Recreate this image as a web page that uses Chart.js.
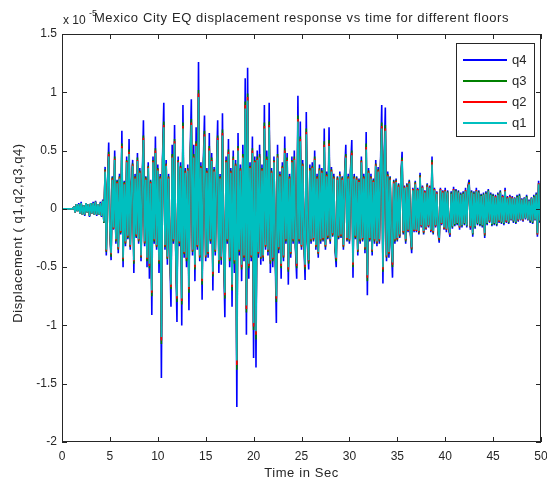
<!DOCTYPE html>
<html>
<head>
<meta charset="utf-8">
<script src="https://cdn.jsdelivr.net/npm/chart.js@4.4.1/dist/chart.umd.min.js"></script>
<style>
  html, body { margin: 0; padding: 0; background: #fff; }
  canvas { display: block; }
</style>
</head>
<body>
<canvas id="eqChart" width="547" height="488"></canvas>
<script>
// floor displacements (x 1e-5), sampled every 0.125 s from 0 to 50 s, one row per second
const dt = 0.125;

const q4 = [
  0, 0, 0, 0, 0, 0, 0, 0,
  0, 0, 0.02, -0.03, 0.04, -0.02, 0.05, -0.04,
  0.06, -0.05, 0.03, -0.06, 0.05, -0.03, 0.04, -0.07,
  0.05, -0.04, 0.06, -0.05, 0.07, -0.06, 0.04, -0.05,
  0.06, -0.07, 0.08, -0.12, 0.36, -0.40, 0.22, 0.57,
  -0.20, -0.44, 0.28, -0.18, 0.50, -0.30, 0.25, -0.38,
  0.30, -0.22, 0.67, -0.50, 0.24, -0.32, 0.45, -0.26,
  0.60, -0.35, 0.22, 0.42, -0.55, 0.30, -0.25, 0.48,
  -0.30, 0.35, -0.45, 0.22, 0.76, -0.32, 0.28, -0.50,
  0.40, -0.60, 0.25, -0.91, 0.45, -0.30, 0.62, -0.35,
  0.38, -0.55, 0.30, -1.45, 0.45, 0.91, -0.35, 0.42,
  -0.48, 0.30, -0.38, -0.84, 0.55, -0.30, 0.72, -0.40,
  -0.97, 0.45, -0.32, 0.40, -1.00, 0.89, -0.42, 0.35,
  -0.50, 0.38, -0.87, 0.45, 0.94, -0.40, 0.55, -0.62,
  0.70, -0.35, 1.26, -0.45, 0.40, -0.78, 0.38, 0.80,
  -0.45, 0.35, -0.42, 0.65, -0.30, 0.48, -0.70, 0.36,
  -0.40, 0.32, 0.76, -0.55, 0.30, -0.48, 0.82, -0.38,
  -0.93, 0.45, -0.30, 0.60, -0.50, 0.35, -0.84, 0.50,
  -0.55, 0.42, -1.70, 0.65, -0.40, 0.38, -0.62, 0.55,
  -0.45, 1.12, -1.08, 1.21, -0.60, 0.40, -0.45, 0.62,
  -1.28, 0.45, -1.36, 0.50, -0.42, 0.55, -0.48, 0.38,
  -0.45, 0.89, -0.35, 0.50, -0.40, 0.91, -0.55, 0.35,
  -0.50, 0.45, -0.35, -0.98, 0.55, -0.38, 0.32, -0.60,
  0.40, -0.45, 0.62, -0.30, 0.48, -0.65, 0.30, -0.42,
  0.45, -0.30, 0.50, -0.35, -0.60, 0.97, -0.30, 0.75,
  -0.35, 0.42, -0.28, -0.61, 0.83, -0.30, -0.52, 0.38,
  -0.30, 0.40, -0.28, 0.50, -0.35, 0.30, -0.42, 0.38,
  -0.30, 0.35, -0.28, 0.69, -0.35, 0.32, -0.26, 0.70,
  -0.30, 0.36, -0.24, 0.30, -0.35, -0.50, 0.28, -0.26,
  0.32, -0.25, 0.28, -0.35, 0.30, 0.55, -0.28, 0.30,
  -0.30, 0.35, 0.59, -0.59, 0.30, -0.26, 0.28, -0.40,
  0.26, -0.30, 0.45, -0.28, 0.30, -0.38, 0.66, -0.74,
  0.35, -0.28, 0.30, -0.40, 0.26, -0.30, 0.42, -0.32,
  0.36, -0.30, 0.40, 0.89, -0.64, 0.42, 0.87, -0.45,
  0.32, -0.42, 0.28, -0.30, -0.59, 0.25, -0.30, 0.26,
  -0.28, 0.22, -0.25, 0.28, 0.49, -0.22, 0.20, -0.30,
  0.22, -0.20, 0.25, -0.22, -0.38, 0.18, -0.20, 0.24,
  -0.20, 0.18, -0.22, 0.31, -0.16, 0.20, -0.22, 0.16,
  -0.18, 0.22, -0.16, 0.20, -0.20, 0.45, -0.22, 0.18,
  -0.16, 0.15, -0.20, -0.29, 0.18, -0.14, 0.16, -0.18,
  0.18, -0.20, 0.16, -0.18, -0.24, 0.15, -0.17, 0.19,
  -0.15, 0.17, -0.14, 0.16, -0.18, 0.14, -0.16, 0.15,
  -0.14, 0.18, -0.16, 0.20, 0.25, -0.18, 0.16, -0.24,
  0.15, -0.17, 0.18, -0.14, 0.16, -0.15, 0.13, -0.16,
  0.14, -0.25, 0.15, -0.14, 0.17, -0.12, 0.14, -0.15,
  0.13, -0.14, 0.12, -0.15, 0.14, -0.12, 0.16, -0.13,
  0.12, -0.14, 0.18, -0.12, 0.11, -0.13, 0.12, -0.10,
  0.11, -0.12, 0.10, -0.13, 0.12, -0.11, 0.13, -0.10,
  0.09, -0.11, 0.10, -0.09, 0.12, -0.10, 0.08, -0.12,
  0.10, -0.13, 0.12, -0.10, 0.14, -0.24, 0.24, -0.12,
  0.05
];

const q3 = [
  0, 0, 0, 0, 0, 0, 0, 0,
  0, 0, 0.02, -0.03, 0.04, -0.02, 0.04, -0.04,
  0.05, -0.05, 0.03, -0.05, 0.05, -0.03, 0.04, -0.06,
  0.05, -0.04, 0.05, -0.05, 0.06, -0.05, 0.04, -0.05,
  0.05, -0.06, 0.07, -0.12, 0.34, -0.37, 0.21, 0.49,
  -0.19, -0.41, 0.27, -0.17, 0.45, -0.28, 0.24, -0.35,
  0.28, -0.21, 0.56, -0.45, 0.23, -0.30, 0.42, -0.25,
  0.51, -0.33, 0.21, 0.39, -0.47, 0.28, -0.24, 0.44,
  -0.28, 0.33, -0.42, 0.21, 0.63, -0.30, 0.27, -0.45,
  0.37, -0.51, 0.24, -0.75, 0.42, -0.28, 0.52, -0.33,
  0.35, -0.47, 0.28, -1.16, 0.42, 0.75, -0.33, 0.39,
  -0.43, 0.28, -0.35, -0.69, 0.47, -0.28, 0.60, -0.37,
  -0.80, 0.42, -0.30, 0.37, -0.82, 0.74, -0.39, 0.33,
  -0.45, 0.35, -0.72, 0.42, 0.77, -0.37, 0.47, -0.52,
  0.58, -0.33, 1.02, -0.42, 0.37, -0.65, 0.35, 0.67,
  -0.42, 0.33, -0.39, 0.54, -0.28, 0.44, -0.58, 0.34,
  -0.37, 0.30, 0.63, -0.47, 0.28, -0.44, 0.68, -0.35,
  -0.77, 0.42, -0.28, 0.51, -0.45, 0.33, -0.70, 0.45,
  -0.47, 0.39, -1.38, 0.54, -0.37, 0.35, -0.52, 0.47,
  -0.42, 0.92, -0.89, 0.99, -0.51, 0.37, -0.42, 0.52,
  -1.04, 0.42, -1.12, 0.45, -0.39, 0.47, -0.43, 0.35,
  -0.42, 0.74, -0.33, 0.45, -0.37, 0.75, -0.47, 0.33,
  -0.45, 0.42, -0.33, -0.80, 0.47, -0.35, 0.30, -0.51,
  0.37, -0.42, 0.52, -0.28, 0.44, -0.54, 0.28, -0.39,
  0.42, -0.28, 0.45, -0.33, -0.51, 0.80, -0.28, 0.62,
  -0.33, 0.39, -0.27, -0.52, 0.69, -0.28, -0.47, 0.35,
  -0.28, 0.37, -0.27, 0.45, -0.33, 0.28, -0.39, 0.35,
  -0.28, 0.33, -0.27, 0.58, -0.33, 0.30, -0.25, 0.59,
  -0.28, 0.34, -0.23, 0.28, -0.33, -0.45, 0.27, -0.25,
  0.30, -0.24, 0.27, -0.33, 0.28, 0.47, -0.27, 0.28,
  -0.28, 0.33, 0.50, -0.50, 0.28, -0.25, 0.27, -0.37,
  0.25, -0.28, 0.42, -0.27, 0.28, -0.35, 0.56, -0.62,
  0.33, -0.27, 0.28, -0.37, 0.25, -0.28, 0.39, -0.30,
  0.34, -0.28, 0.37, 0.74, -0.54, 0.39, 0.72, -0.42,
  0.30, -0.39, 0.27, -0.28, -0.50, 0.24, -0.28, 0.25,
  -0.27, 0.21, -0.24, 0.27, 0.44, -0.21, 0.19, -0.28,
  0.21, -0.19, 0.24, -0.21, -0.35, 0.17, -0.19, 0.23,
  -0.19, 0.17, -0.21, 0.29, -0.15, 0.19, -0.21, 0.15,
  -0.17, 0.21, -0.15, 0.19, -0.19, 0.42, -0.21, 0.17,
  -0.15, 0.14, -0.19, -0.27, 0.17, -0.13, 0.15, -0.17,
  0.16, -0.18, 0.15, -0.16, -0.22, 0.14, -0.16, 0.17,
  -0.14, 0.16, -0.13, 0.15, -0.16, 0.13, -0.15, 0.14,
  -0.13, 0.16, -0.15, 0.18, 0.23, -0.16, 0.15, -0.22,
  0.14, -0.16, 0.16, -0.13, 0.15, -0.14, 0.12, -0.15,
  0.13, -0.23, 0.14, -0.13, 0.16, -0.11, 0.13, -0.14,
  0.12, -0.13, 0.11, -0.14, 0.13, -0.11, 0.15, -0.12,
  0.11, -0.13, 0.16, -0.11, 0.10, -0.12, 0.11, -0.09,
  0.10, -0.11, 0.09, -0.12, 0.11, -0.10, 0.12, -0.09,
  0.08, -0.10, 0.09, -0.08, 0.11, -0.09, 0.07, -0.11,
  0.09, -0.12, 0.11, -0.09, 0.13, -0.22, 0.22, -0.11,
  0.05
];

const q2 = [
  0, 0, 0, 0, 0, 0, 0, 0,
  0, 0, 0.02, -0.03, 0.04, -0.02, 0.04, -0.04,
  0.05, -0.05, 0.03, -0.05, 0.05, -0.03, 0.04, -0.06,
  0.05, -0.04, 0.05, -0.05, 0.06, -0.05, 0.04, -0.05,
  0.05, -0.06, 0.07, -0.11, 0.33, -0.36, 0.20, 0.47,
  -0.19, -0.39, 0.26, -0.17, 0.43, -0.27, 0.23, -0.34,
  0.27, -0.20, 0.54, -0.43, 0.22, -0.29, 0.41, -0.24,
  0.49, -0.32, 0.20, 0.38, -0.45, 0.27, -0.23, 0.42,
  -0.27, 0.32, -0.41, 0.20, 0.61, -0.29, 0.26, -0.43,
  0.36, -0.49, 0.23, -0.72, 0.41, -0.27, 0.50, -0.32,
  0.34, -0.45, 0.27, -1.13, 0.41, 0.72, -0.32, 0.38,
  -0.42, 0.27, -0.34, -0.67, 0.45, -0.27, 0.58, -0.36,
  -0.77, 0.41, -0.29, 0.36, -0.79, 0.71, -0.38, 0.32,
  -0.43, 0.34, -0.69, 0.41, 0.74, -0.36, 0.45, -0.50,
  0.56, -0.32, 0.99, -0.41, 0.36, -0.62, 0.34, 0.64,
  -0.41, 0.32, -0.38, 0.52, -0.27, 0.42, -0.56, 0.33,
  -0.36, 0.29, 0.61, -0.45, 0.27, -0.42, 0.65, -0.34,
  -0.74, 0.41, -0.27, 0.49, -0.43, 0.32, -0.67, 0.43,
  -0.45, 0.38, -1.34, 0.52, -0.36, 0.34, -0.50, 0.45,
  -0.41, 0.89, -0.86, 0.96, -0.49, 0.36, -0.41, 0.50,
  -1.01, 0.41, -1.08, 0.43, -0.38, 0.45, -0.42, 0.34,
  -0.41, 0.71, -0.32, 0.43, -0.36, 0.72, -0.45, 0.32,
  -0.43, 0.41, -0.32, -0.77, 0.45, -0.34, 0.29, -0.49,
  0.36, -0.41, 0.50, -0.27, 0.42, -0.52, 0.27, -0.38,
  0.41, -0.27, 0.43, -0.32, -0.49, 0.77, -0.27, 0.60,
  -0.32, 0.38, -0.26, -0.50, 0.66, -0.27, -0.45, 0.34,
  -0.27, 0.36, -0.26, 0.43, -0.32, 0.27, -0.38, 0.34,
  -0.27, 0.32, -0.26, 0.55, -0.32, 0.29, -0.24, 0.56,
  -0.27, 0.33, -0.22, 0.27, -0.32, -0.43, 0.26, -0.24,
  0.29, -0.23, 0.26, -0.32, 0.27, 0.45, -0.26, 0.27,
  -0.27, 0.32, 0.48, -0.48, 0.27, -0.24, 0.26, -0.36,
  0.24, -0.27, 0.41, -0.26, 0.27, -0.34, 0.53, -0.59,
  0.32, -0.26, 0.27, -0.36, 0.24, -0.27, 0.38, -0.29,
  0.33, -0.27, 0.36, 0.71, -0.52, 0.38, 0.69, -0.41,
  0.29, -0.38, 0.26, -0.27, -0.48, 0.23, -0.27, 0.24,
  -0.26, 0.20, -0.23, 0.26, 0.42, -0.20, 0.19, -0.27,
  0.20, -0.19, 0.23, -0.20, -0.34, 0.17, -0.19, 0.22,
  -0.19, 0.17, -0.20, 0.28, -0.15, 0.19, -0.20, 0.15,
  -0.17, 0.20, -0.15, 0.19, -0.19, 0.40, -0.20, 0.17,
  -0.15, 0.14, -0.19, -0.26, 0.17, -0.13, 0.15, -0.17,
  0.16, -0.18, 0.14, -0.16, -0.22, 0.13, -0.15, 0.17,
  -0.13, 0.15, -0.12, 0.14, -0.16, 0.12, -0.14, 0.13,
  -0.12, 0.16, -0.14, 0.18, 0.22, -0.16, 0.14, -0.21,
  0.13, -0.15, 0.16, -0.12, 0.14, -0.13, 0.11, -0.14,
  0.12, -0.22, 0.13, -0.12, 0.15, -0.11, 0.12, -0.13,
  0.11, -0.12, 0.11, -0.13, 0.12, -0.11, 0.14, -0.11,
  0.11, -0.12, 0.16, -0.11, 0.10, -0.11, 0.11, -0.09,
  0.10, -0.10, 0.09, -0.11, 0.10, -0.10, 0.11, -0.09,
  0.08, -0.10, 0.09, -0.08, 0.10, -0.09, 0.07, -0.10,
  0.09, -0.11, 0.10, -0.09, 0.12, -0.22, 0.22, -0.10,
  0.04
];

const q1 = [
  0, 0, 0, 0, 0, 0, 0, 0,
  0, 0, 0.02, -0.03, 0.04, -0.02, 0.04, -0.04,
  0.05, -0.05, 0.03, -0.05, 0.05, -0.03, 0.04, -0.06,
  0.05, -0.04, 0.05, -0.05, 0.06, -0.05, 0.04, -0.05,
  0.05, -0.06, 0.07, -0.11, 0.32, -0.35, 0.19, 0.45,
  -0.18, -0.38, 0.25, -0.16, 0.42, -0.26, 0.22, -0.33,
  0.26, -0.19, 0.52, -0.42, 0.21, -0.28, 0.40, -0.23,
  0.47, -0.31, 0.19, 0.37, -0.44, 0.26, -0.22, 0.41,
  -0.26, 0.31, -0.40, 0.19, 0.59, -0.28, 0.25, -0.42,
  0.35, -0.47, 0.22, -0.70, 0.40, -0.26, 0.48, -0.31,
  0.33, -0.44, 0.26, -1.10, 0.40, 0.70, -0.31, 0.37,
  -0.41, 0.26, -0.33, -0.65, 0.44, -0.26, 0.56, -0.35,
  -0.75, 0.40, -0.28, 0.35, -0.77, 0.69, -0.37, 0.31,
  -0.42, 0.33, -0.67, 0.40, 0.72, -0.35, 0.44, -0.48,
  0.54, -0.31, 0.96, -0.40, 0.35, -0.60, 0.33, 0.62,
  -0.40, 0.31, -0.37, 0.50, -0.26, 0.41, -0.54, 0.32,
  -0.35, 0.28, 0.59, -0.44, 0.26, -0.41, 0.63, -0.33,
  -0.72, 0.40, -0.26, 0.47, -0.42, 0.31, -0.65, 0.42,
  -0.44, 0.37, -1.30, 0.50, -0.35, 0.33, -0.48, 0.44,
  -0.40, 0.86, -0.83, 0.93, -0.47, 0.35, -0.40, 0.48,
  -0.98, 0.40, -1.05, 0.42, -0.37, 0.44, -0.41, 0.33,
  -0.40, 0.69, -0.31, 0.42, -0.35, 0.70, -0.44, 0.31,
  -0.42, 0.40, -0.31, -0.75, 0.44, -0.33, 0.28, -0.47,
  0.35, -0.40, 0.48, -0.26, 0.41, -0.50, 0.26, -0.37,
  0.40, -0.26, 0.42, -0.31, -0.47, 0.75, -0.26, 0.58,
  -0.31, 0.37, -0.25, -0.48, 0.64, -0.26, -0.44, 0.33,
  -0.26, 0.35, -0.25, 0.42, -0.31, 0.26, -0.37, 0.33,
  -0.26, 0.31, -0.25, 0.53, -0.31, 0.28, -0.23, 0.54,
  -0.26, 0.32, -0.21, 0.26, -0.31, -0.42, 0.25, -0.23,
  0.28, -0.22, 0.25, -0.31, 0.26, 0.44, -0.25, 0.26,
  -0.26, 0.31, 0.46, -0.46, 0.26, -0.23, 0.25, -0.35,
  0.23, -0.26, 0.40, -0.25, 0.26, -0.33, 0.51, -0.57,
  0.31, -0.25, 0.26, -0.35, 0.23, -0.26, 0.37, -0.28,
  0.32, -0.26, 0.35, 0.69, -0.50, 0.37, 0.67, -0.40,
  0.28, -0.37, 0.25, -0.26, -0.46, 0.22, -0.26, 0.23,
  -0.25, 0.19, -0.22, 0.25, 0.41, -0.19, 0.18, -0.26,
  0.19, -0.18, 0.22, -0.19, -0.33, 0.16, -0.18, 0.21,
  -0.18, 0.16, -0.19, 0.27, -0.14, 0.18, -0.19, 0.14,
  -0.16, 0.19, -0.14, 0.18, -0.18, 0.38, -0.19, 0.16,
  -0.14, 0.13, -0.18, -0.25, 0.16, -0.12, 0.14, -0.16,
  0.15, -0.17, 0.14, -0.15, -0.21, 0.13, -0.15, 0.16,
  -0.13, 0.15, -0.12, 0.14, -0.15, 0.12, -0.14, 0.13,
  -0.12, 0.15, -0.14, 0.17, 0.21, -0.15, 0.14, -0.21,
  0.13, -0.15, 0.15, -0.12, 0.14, -0.13, 0.11, -0.14,
  0.12, -0.21, 0.13, -0.12, 0.15, -0.10, 0.12, -0.13,
  0.11, -0.12, 0.10, -0.13, 0.12, -0.10, 0.14, -0.11,
  0.10, -0.12, 0.15, -0.10, 0.09, -0.11, 0.10, -0.09,
  0.09, -0.10, 0.09, -0.11, 0.10, -0.09, 0.11, -0.09,
  0.08, -0.09, 0.09, -0.08, 0.10, -0.09, 0.07, -0.10,
  0.09, -0.11, 0.10, -0.09, 0.12, -0.21, 0.21, -0.10,
  0.04
];

const xTicks = [0, 5, 10, 15, 20, 25, 30, 35, 40, 45, 50];
const yTicks = [-2, -1.5, -1, -0.5, 0, 0.5, 1, 1.5];

const titleText = 'Mexico City EQ displacement response vs time for different floors';
const xLabel = 'Time in Sec';
const yLabel = 'Displacement ( q1,q2,q3,q4)';

const FONT = '"Liberation Sans", Arial, Helvetica, sans-serif';
const INK = '#262626';
const LINE_W = 1.6;

const toPoints = arr => arr.map((v, i) => ({ x: i * dt, y: v }));

// q1 is listed first so it is painted last (on top)
const series = [
  { label: 'q1', data: q1, color: '#00bfbf' },
  { label: 'q2', data: q2, color: '#ff0000' },
  { label: 'q3', data: q3, color: '#008000' },
  { label: 'q4', data: q4, color: '#0000ff' },
];

// box, inward ticks, legend and all the free text
const matlabFrame = {
  id: 'matlabFrame',
  afterDraw(chart) {
    const { ctx, chartArea: a, scales: { x, y } } = chart;
    ctx.save();

    ctx.strokeStyle = INK;
    ctx.lineWidth = 1;
    ctx.strokeRect(a.left + 0.5, a.top + 0.5, a.right - a.left - 1, a.bottom - a.top - 1);

    ctx.beginPath();
    xTicks.forEach(v => {
      const px = Math.round(x.getPixelForValue(v)) + 0.5;
      ctx.moveTo(px, a.bottom); ctx.lineTo(px, a.bottom - 5);
      ctx.moveTo(px, a.top); ctx.lineTo(px, a.top + 5);
    });
    yTicks.forEach(v => {
      const py = Math.round(y.getPixelForValue(v)) + 0.5;
      ctx.moveTo(a.left, py); ctx.lineTo(a.left + 5, py);
      ctx.moveTo(a.right, py); ctx.lineTo(a.right - 5, py);
    });
    ctx.stroke();

    // legend box, top right inside the axes
    const lx = 456, ly = 43, lw = 79, lh = 94;
    ctx.fillStyle = '#fff';
    ctx.fillRect(lx, ly, lw, lh);
    ctx.strokeStyle = INK;
    ctx.strokeRect(lx + 0.5, ly + 0.5, lw - 1, lh - 1);
    ctx.font = '13px ' + FONT;
    ctx.textBaseline = 'middle';
    ctx.textAlign = 'left';
    const items = chart.data.datasets.slice().reverse();
    items.forEach((ds, i) => {
      const yy = ly + 17 + i * 21;
      ctx.strokeStyle = ds.borderColor;
      ctx.lineWidth = 2;
      ctx.beginPath();
      ctx.moveTo(lx + 7, yy);
      ctx.lineTo(lx + 51, yy);
      ctx.stroke();
      ctx.fillStyle = INK;
      ctx.fillText(ds.label, lx + 56, yy);
    });
    ctx.lineWidth = 1;

    ctx.fillStyle = INK;
    ctx.letterSpacing = '0.6px';

    // title
    ctx.font = '13px ' + FONT;
    ctx.textAlign = 'center';
    ctx.textBaseline = 'alphabetic';
    ctx.fillText(titleText, (a.left + a.right) / 2, 22);

    // x label
    ctx.fillText(xLabel, (a.left + a.right) / 2, 477);

    // y label, rotated
    ctx.save();
    ctx.translate(22, (a.top + a.bottom) / 2 - 5);
    ctx.rotate(-Math.PI / 2);
    ctx.fillText(yLabel, 0, 0);
    ctx.restore();

    // exponent marker above the y axis
    ctx.letterSpacing = '0px';
    ctx.textAlign = 'left';
    ctx.font = '12px ' + FONT;
    ctx.fillText('x 10', a.left + 1, 24);
    ctx.font = '9px ' + FONT;
    ctx.fillText('-5', a.left + 27, 16);

    ctx.restore();
  }
};

new Chart(document.getElementById('eqChart'), {
  type: 'line',
  data: {
    datasets: series.map(s => ({
      label: s.label,
      data: toPoints(s.data),
      borderColor: s.color,
      backgroundColor: s.color,
      borderWidth: LINE_W,
      borderJoinStyle: 'bevel',
      pointRadius: 0,
      tension: 0,
      fill: false,
    })),
  },
  options: {
    responsive: false,
    animation: false,
    events: [],
    layout: { padding: { top: 34, right: 6, left: 0, bottom: 0 } },
    plugins: {
      legend: { display: false },
      tooltip: { enabled: false },
    },
    scales: {
      x: {
        type: 'linear',
        min: 0,
        max: 50,
        grid: { display: false, drawTicks: false },
        border: { display: false },
        afterBuildTicks: s => { s.ticks = xTicks.map(v => ({ value: v })); },
        ticks: {
          autoSkip: false,
          maxRotation: 0,
          padding: 7,
          color: INK,
          font: { family: FONT, size: 12 },
          callback: v => String(v),
        },
        afterFit: s => { s.height = 46; s.paddingLeft = 0; s.paddingRight = 0; },
      },
      y: {
        min: -2,
        max: 1.5,
        grid: { display: false, drawTicks: false },
        border: { display: false },
        afterBuildTicks: s => { s.ticks = yTicks.map(v => ({ value: v })); },
        ticks: {
          autoSkip: false,
          padding: 5,
          color: INK,
          font: { family: FONT, size: 12 },
          callback: v => String(v),
        },
        afterFit: s => { s.width = 62; s.paddingTop = 0; s.paddingBottom = 0; },
      },
    },
  },
  plugins: [matlabFrame],
});
</script>
</body>
</html>
